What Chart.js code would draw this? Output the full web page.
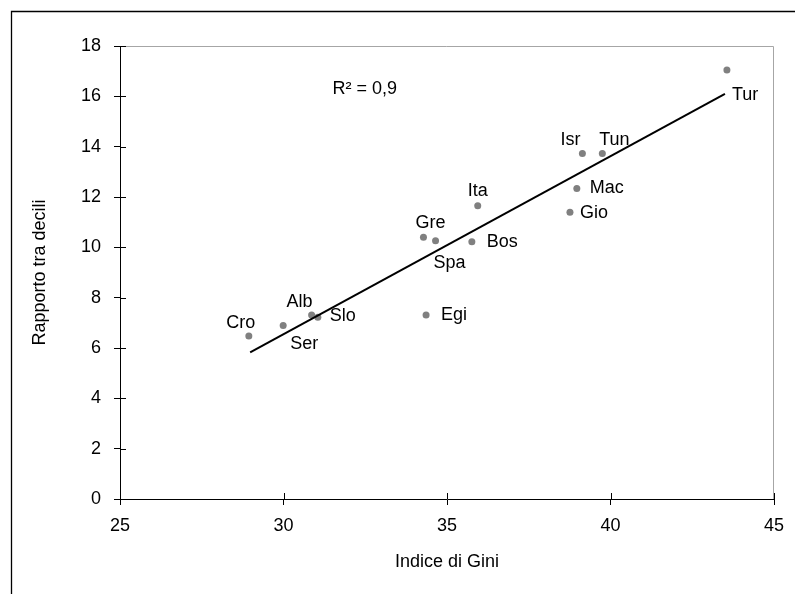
<!DOCTYPE html>
<html>
<head>
<meta charset="utf-8">
<script src="https://cdn.jsdelivr.net/npm/chart.js@4/dist/chart.umd.min.js"></script>
<style>
html,body{margin:0;padding:0;background:#fff;}
#wrap{width:795px;height:594px;position:relative;}
</style>
</head>
<body>
<div id="wrap"><canvas id="c" width="795" height="594"></canvas></div>
<script>
// ---- data ----
const countries = ['Cro','Ser','Alb','Slo','Egi','Gre','Spa','Bos','Ita','Gio','Mac','Isr','Tun','Tur'];
const giniIndex = [28.94, 29.99, 30.86, 31.05, 34.36, 34.28, 34.65, 35.76, 35.94, 38.76, 38.97, 39.14, 39.75, 43.56];
const decileRatio = [6.48, 6.89, 7.31, 7.22, 7.31, 10.40, 10.26, 10.22, 11.65, 11.39, 12.34, 13.73, 13.73, 17.05];
const trendX = [28.98, 43.50];
const trendY = [5.83, 16.10];
const xTicks = [25, 30, 35, 40, 45];
const yTicks = [0, 2, 4, 6, 8, 10, 12, 14, 16, 18];
const rSquaredText = 'R\u00B2 = 0,9';

// ---- label placement (style, pixels relative to point) ----
const labelPlacement = {
  Tur: {dx: 5, dy: 25, align: 'left'},
  Isr: {dx: -12, dy: -13, align: 'center'},
  Tun: {dx: 12, dy: -13, align: 'center'},
  Mac: {dx: 13, dy: 0, align: 'left'},
  Gio: {dx: 10, dy: 1, align: 'left'},
  Ita: {dx: 0, dy: -15, align: 'center'},
  Gre: {dx: 7, dy: -14, align: 'center'},
  Spa: {dx: 14, dy: 22, align: 'center'},
  Bos: {dx: 15, dy: 0, align: 'left'},
  Egi: {dx: 15, dy: 0, align: 'left'},
  Cro: {dx: -8, dy: -13, align: 'center'},
  Ser: {dx: 21, dy: 18, align: 'center'},
  Alb: {dx: -12, dy: -13, align: 'center'},
  Slo: {dx: 12, dy: -1, align: 'left'}
};

const FONT = '"Liberation Sans", Arial, sans-serif';
const FS = 18;

const pointData = giniIndex.map((g, i) => ({x: g, y: decileRatio[i]}));
const trendData = trendX.map((x, i) => ({x: x, y: trendY[i]}));

const decor = {
  id: 'decor',
  beforeDraw(chart) {
    const ctx = chart.ctx;
    const a = chart.chartArea;
    ctx.save();
    ctx.fillStyle = '#fff';
    ctx.fillRect(0, 0, chart.width, chart.height);
    // outer frame (clipped to the right and bottom)
    ctx.strokeStyle = '#000';
    ctx.lineWidth = 1.3;
    ctx.beginPath();
    ctx.moveTo(11.5, chart.height + 2);
    ctx.lineTo(11.5, 11.5);
    ctx.lineTo(chart.width + 2, 11.5);
    ctx.stroke();
    // plot area border
    ctx.strokeStyle = '#a6a6a6';
    ctx.lineWidth = 1;
    ctx.beginPath();
    ctx.moveTo(a.left, Math.round(a.top) + 0.5);
    ctx.lineTo(Math.round(a.right) - 0.5, Math.round(a.top) + 0.5);
    ctx.lineTo(Math.round(a.right) - 0.5, a.bottom);
    ctx.stroke();
    ctx.restore();
  },
  afterDatasetsDraw(chart) {
    const ctx = chart.ctx;
    const xs = chart.scales.x, ys = chart.scales.y;
    const a = chart.chartArea;
    ctx.save();
    // inner tick halves (crossing tick marks)
    ctx.strokeStyle = '#000';
    ctx.lineWidth = 1;
    ctx.beginPath();
    yTicks.forEach(v => {
      const py = Math.round(ys.getPixelForValue(v)) + 0.5;
      ctx.moveTo(a.left, py);
      ctx.lineTo(a.left + 6, py);
    });
    xTicks.forEach(v => {
      const px = Math.round(xs.getPixelForValue(v)) + 0.5;
      ctx.moveTo(px, a.bottom);
      ctx.lineTo(px, a.bottom - 6);
    });
    ctx.stroke();
    // point labels
    ctx.fillStyle = '#000';
    ctx.font = FS + 'px ' + FONT;
    ctx.textBaseline = 'middle';
    countries.forEach((name, i) => {
      const p = labelPlacement[name];
      const px = xs.getPixelForValue(giniIndex[i]);
      const py = ys.getPixelForValue(decileRatio[i]);
      ctx.textAlign = p.align;
      ctx.fillText(name, px + p.dx, py + p.dy);
    });
    // R squared annotation
    ctx.textAlign = 'left';
    ctx.fillText(rSquaredText, xs.getPixelForValue(31.5), ys.getPixelForValue(16.3));
    ctx.restore();
  }
};

new Chart(document.getElementById('c'), {
  type: 'scatter',
  data: {
    datasets: [
      {
        label: 'Paesi',
        data: pointData,
        backgroundColor: '#808080',
        borderColor: '#808080',
        pointRadius: 3.5,
        pointBorderWidth: 0,
        order: 1
      },
      {
        type: 'line',
        label: 'Tendenza',
        data: trendData,
        borderColor: '#000',
        borderWidth: 2,
        pointRadius: 0,
        fill: false,
        order: 0
      }
    ]
  },
  options: {
    responsive: false,
    animation: false,
    devicePixelRatio: 1,
    layout: {padding: {top: 46, right: 21, left: 0, bottom: 0}},
    plugins: {legend: {display: false}, tooltip: {enabled: false}},
    scales: {
      x: {
        type: 'linear',
        min: 25, max: 45,
        afterBuildTicks(s) { s.ticks = xTicks.map(v => ({value: v})); },
        afterFit(s) { s.height = 95; },
        border: {display: true, color: '#000', width: 1},
        grid: {display: true, drawOnChartArea: false, drawTicks: true, tickLength: 6, color: '#000'},
        ticks: {color: '#000', font: {family: FONT, size: FS}, padding: 10, maxRotation: 0},
        title: {display: true, text: 'Indice di Gini', color: '#000', font: {family: FONT, size: FS}, padding: {top: 0, bottom: 21}}
      },
      y: {
        type: 'linear',
        min: 0, max: 18,
        afterBuildTicks(s) { s.ticks = yTicks.map(v => ({value: v})); },
        afterFit(s) { s.width = 120; },
        border: {display: true, color: '#000', width: 1},
        grid: {display: true, drawOnChartArea: false, drawTicks: true, tickLength: 6, color: '#000'},
        ticks: {color: '#000', font: {family: FONT, size: FS}, padding: 13},
        title: {display: true, text: 'Rapporto tra decili', color: '#000', font: {family: FONT, size: FS}, padding: {top: 29, bottom: 0}}
      }
    }
  },
  plugins: [decor]
});
</script>
</body>
</html>
